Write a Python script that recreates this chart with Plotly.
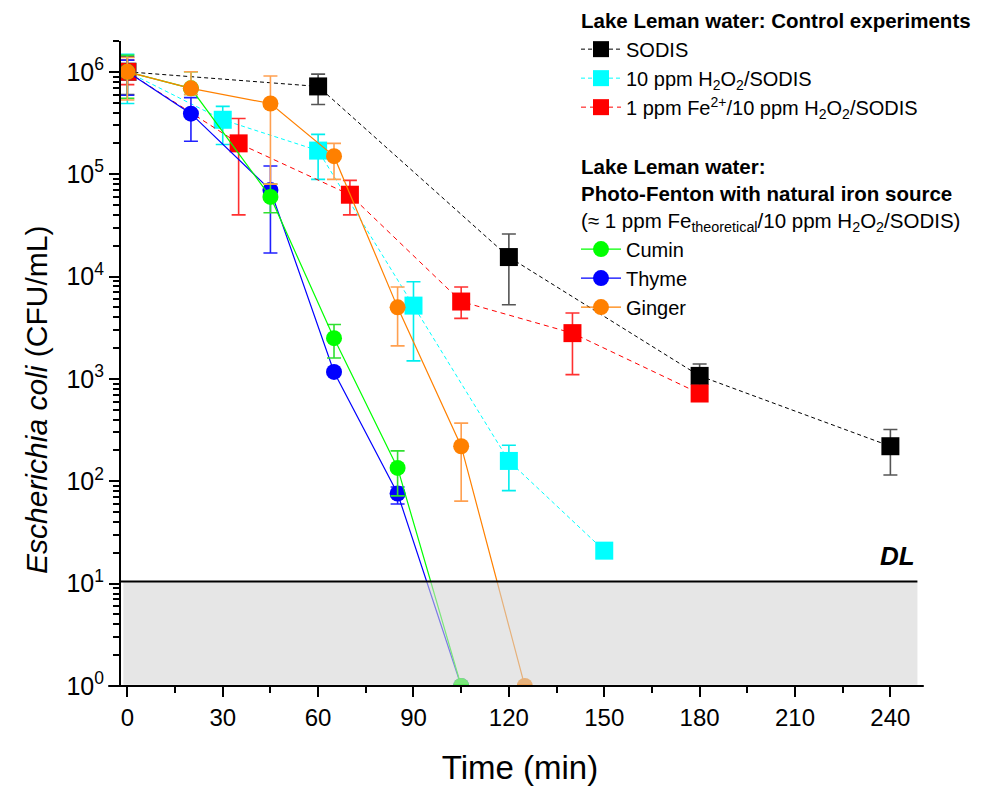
import math
import plotly.graph_objects as go

# ---------------- data ----------------
DL = 10.5

sodis_t = [0, 60, 120, 180, 240]
sodis_y = [1.0e6, 7.2e5, 1.55e4, 1.07e3, 2.2e2]
sodis_hi = [1.4e6, 9.5e5, 2.6e4, 1.4e3, 3.2e2]
sodis_lo = [6.0e5, 4.8e5, 5.3e3, 8.0e2, 1.15e2]

h2o2_t = [0, 30, 60, 90, 120, 150]
h2o2_y = [1.0e6, 3.4e5, 1.7e5, 5.2e3, 1.58e2, 21]
h2o2_hi = [1.48e6, 4.6e5, 2.45e5, 8.9e3, 2.25e2, 21]
h2o2_lo = [4.9e5, 1.95e5, 8.9e4, 1.5e3, 8.1e1, 21]

fe_t = [0, 35, 70, 105, 140, 180]
fe_y = [1.0e6, 2.0e5, 6.3e4, 5.7e3, 2.8e3, 7.2e2]
fe_hi = [1.3e6, 3.5e5, 8.7e4, 7.9e3, 4.4e3, 7.2e2]
fe_lo = [7.5e5, 4.0e4, 4.0e4, 3.9e3, 1.1e3, 7.2e2]

cumin_t = [0, 20, 45, 65, 85, 105]
cumin_y = [1.0e6, 6.9e5, 6.0e4, 2.5e3, 1.35e2, 1]
cumin_hi = [1.45e6, 1.0e6, 8.0e4, 3.4e3, 1.98e2, 1]
cumin_lo = [5.5e5, 6.0e5, 4.2e4, 1.6e3, 7.2e1, 1]

thyme_t = [0, 20, 45, 65, 85, 105]
thyme_y = [1.0e6, 3.9e5, 7.0e4, 1.17e3, 76, 1]
thyme_hi = [1.3e6, 5.6e5, 1.2e5, 1.17e3, 88, 1]
thyme_lo = [5.9e5, 2.1e5, 1.7e4, 1.17e3, 60, 1]

ginger_t = [0, 20, 45, 65, 85, 105, 125]
ginger_y = [1.0e6, 6.9e5, 4.9e5, 1.5e5, 5.0e3, 2.2e2, 1]
ginger_hi = [1.38e6, 1.0e6, 9.1e5, 2.0e5, 7.9e3, 3.7e2, 1]
ginger_lo = [5.3e5, 6.0e5, 8.0e4, 8.9e4, 2.1e3, 6.4e1, 1]

x_ticks = [0, 30, 60, 90, 120, 150, 180, 210, 240]
y_exps = [0, 1, 2, 3, 4, 5, 6]
Y_TOP = 2e6

FONT = "Liberation Sans, Arial, sans-serif"

fig = go.Figure()


def add(name, t, y, hi, lo, color, ecolor, symbol, size, dash, lw, group, rank, gtitle=None):
    plus = [h - v for h, v in zip(hi, y)]
    minus = [v - l for v, l in zip(y, lo)]
    kw = {}
    if gtitle is not None:
        kw["legendgrouptitle"] = dict(text=gtitle, font=dict(size=20.5, family=FONT, color="black"))
    fig.add_trace(go.Scatter(
        x=t, y=y, name=name, mode="lines+markers",
        line=dict(color=color, width=lw, dash=dash),
        marker=dict(symbol=symbol, size=size, color=color, line=dict(width=0)),
        error_y=dict(type="data", array=plus, arrayminus=minus, symmetric=False,
                     color=ecolor, thickness=1.6, width=7),
        legendgroup=group, legendrank=rank, **kw))


add("SODIS", sodis_t, sodis_y, sodis_hi, sodis_lo, "#000000", "#555555",
    "square", 18, "4px,3px", 1, "g1", 1, "<b>Lake Leman water: Control experiments</b>")
add("10 ppm H<sub>2</sub>O<sub>2</sub>/SODIS", h2o2_t, h2o2_y, h2o2_hi, h2o2_lo,
    "#00FFFF", "#00EEEE", "square", 18, "4px,3px", 1, "g1", 2)
add("1 ppm Fe<sup>2+</sup>/10 ppm H<sub>2</sub>O<sub>2</sub>/SODIS", fe_t, fe_y, fe_hi, fe_lo,
    "#FF0000", "#FF3030", "square", 18, "5px,4px", 1, "g1", 3)
add("Thyme", thyme_t, thyme_y, thyme_hi, thyme_lo, "#0000FF", "#2020FF",
    "circle", 16, "solid", 1.2, "g2", 5)
add("Cumin", cumin_t, cumin_y, cumin_hi, cumin_lo, "#00FF00", "#30E030",
    "circle", 16, "solid", 1.2, "g2", 4,
    "<b>Lake Leman water:</b><br><b>Photo-Fenton with natural iron source</b><br>"
    "(≈ 1 ppm Fe<sub>theoretical</sub>/10 ppm H<sub>2</sub>O<sub>2</sub>/SODIS)")
add("Ginger", ginger_t, ginger_y, ginger_hi, ginger_lo, "#FF8000", "#FFA050",
    "circle", 16, "solid", 1.2, "g2", 6)

# detection-limit band (translucent, above traces) and DL line
dl_frac = math.log10(DL) / math.log10(Y_TOP)
fig.add_shape(type="rect", xref="paper", yref="paper", x0=0.003, x1=0.998, y0=0.002, y1=dl_frac,
              fillcolor="rgba(212,212,212,0.58)", line=dict(width=0), layer="above")
fig.add_shape(type="line", xref="paper", yref="paper", x0=0.0, x1=0.998, y0=dl_frac, y1=dl_frac,
              line=dict(color="black", width=2), layer="above")
# extended bottom axis line
fig.add_shape(type="line", xref="paper", yref="paper", x0=-0.016, x1=1.006, y0=0, y1=0,
              line=dict(color="black", width=2), layer="above")

fig.add_annotation(text="<b><i>DL</i></b>", xref="paper", yref="paper", x=0.998, y=dl_frac + 0.04,
                   xanchor="right", yanchor="middle", showarrow=False,
                   font=dict(size=26, family=FONT, color="black"))

# y-axis title as rotated annotation (centred lower than the axis middle, as in the original)
fig.add_annotation(text="<i>Escherichia coli</i> (CFU/mL)", xref="paper", yref="paper",
                   x=(37 - 121) / 798, y=(686 - 400) / 645, xanchor="center", yanchor="middle",
                   textangle=-90, showarrow=False, font=dict(size=30, family=FONT, color="black"))

fig.update_layout(
    width=984, height=788,
    margin=dict(l=121, r=65, t=41, b=102, autoexpand=False),
    paper_bgcolor="white", plot_bgcolor="white",
    font=dict(family=FONT, color="black", size=20),
    showlegend=True,
    legend=dict(x=(576 - 121) / 798, y=(686 + 0) / 645, xanchor="left", yanchor="top",
                bgcolor="rgba(0,0,0,0)", traceorder="grouped", tracegroupgap=30,
                font=dict(size=20, family=FONT), itemwidth=40),
    xaxis=dict(range=[-2, 249], tickvals=x_ticks, ticktext=[str(v) for v in x_ticks],
               ticks="outside", ticklen=10, tickwidth=2, tickcolor="black",
               showline=False, showgrid=False, zeroline=False,
               tickfont=dict(size=24, family=FONT),
               minor=dict(dtick=15, tick0=0, ticks="outside", ticklen=6, tickwidth=1.5,
                          tickcolor="black", showgrid=False),
               title=dict(text="Time (min)", font=dict(size=33, family=FONT), standoff=26)),
    yaxis=dict(type="log", range=[0, math.log10(Y_TOP)],
               tickvals=[10 ** e for e in y_exps],
               ticktext=["10<sup>%d</sup>" % e for e in y_exps],
               ticks="outside", ticklen=10, tickwidth=2, tickcolor="black",
               showline=True, linecolor="black", linewidth=2,
               showgrid=False, zeroline=False,
               tickfont=dict(size=25, family=FONT),
               minor=dict(tickvals=[m * 10 ** e for e in y_exps for m in range(2, 10) if m * 10 ** e <= Y_TOP],
                          ticks="outside", ticklen=6, tickwidth=1.5, tickcolor="black", showgrid=False)),
)

fig.write_html("out.html")
